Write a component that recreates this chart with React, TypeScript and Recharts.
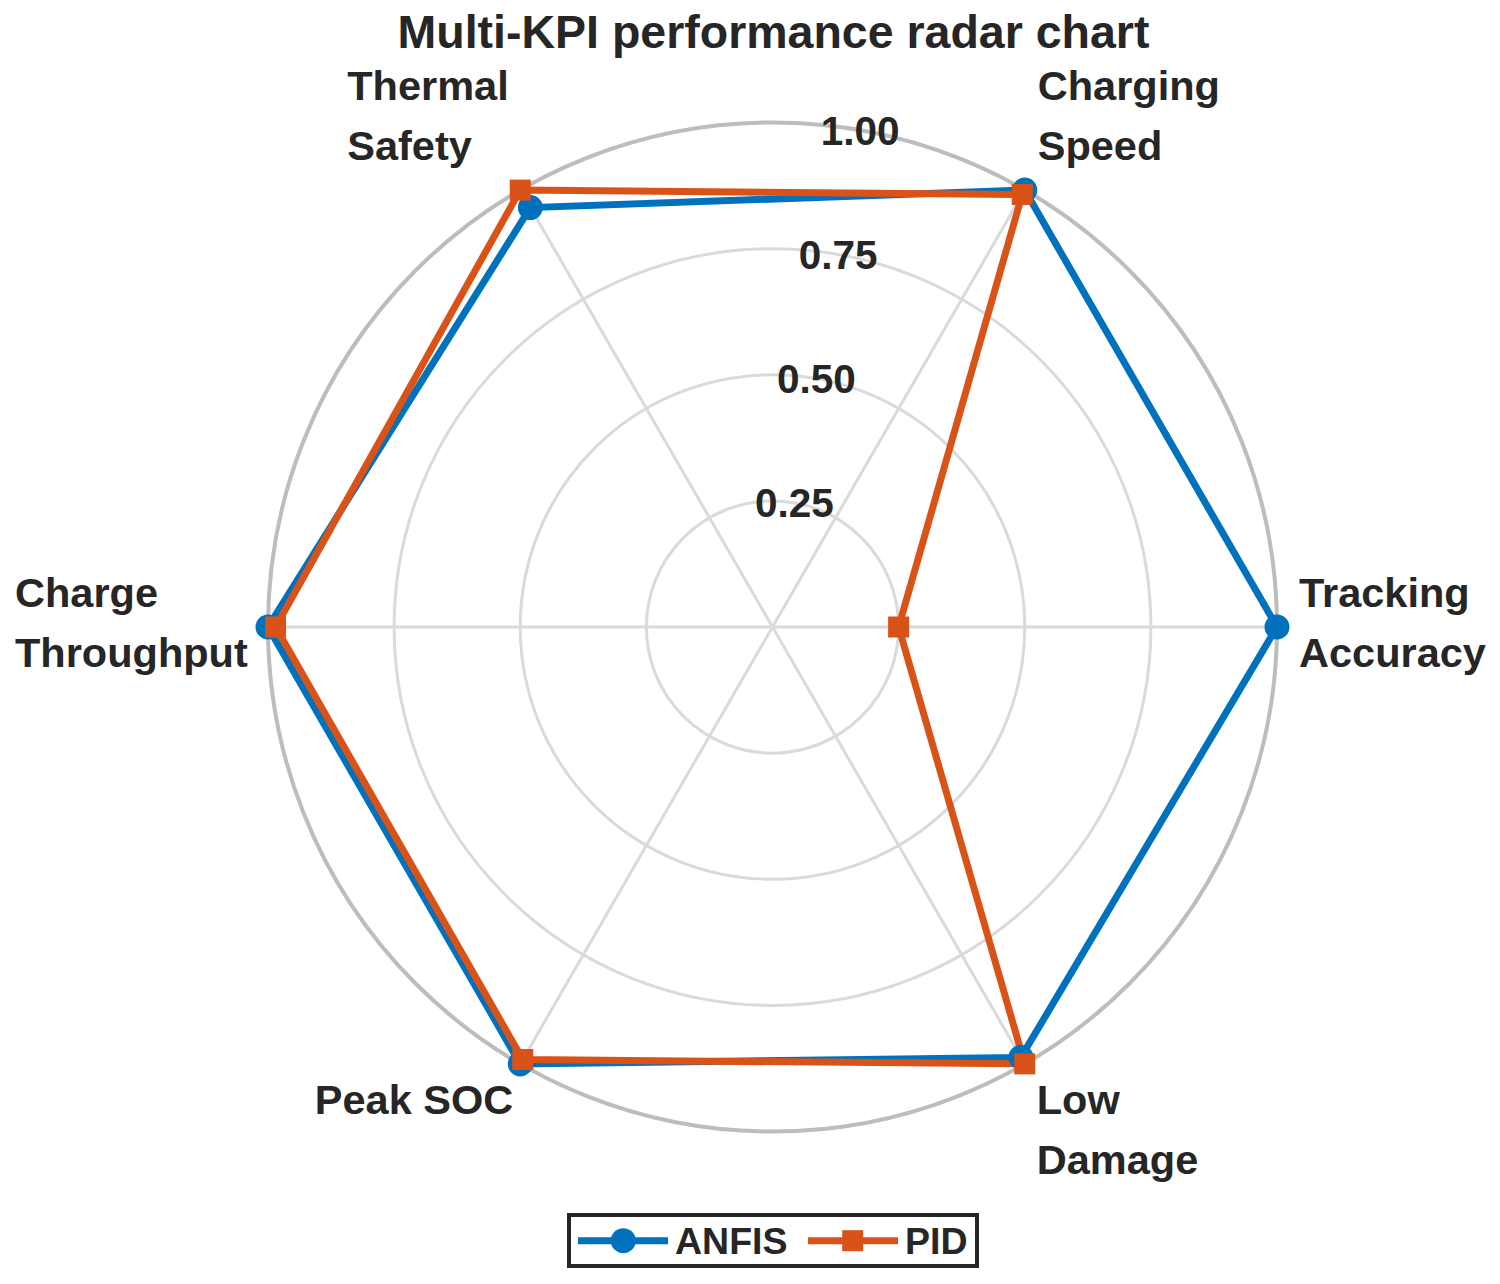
import React from 'react';
import { RadarChart, Radar, PolarGrid, PolarAngleAxis, PolarRadiusAxis, Legend } from 'recharts';

// ---------- data ----------
const categories = [
  'Tracking Accuracy',
  'Charging Speed',
  'Thermal Safety',
  'Charge Throughput',
  'Peak SOC',
  'Low Damage',
];
const categoryLabelLines = [
  ['Tracking', 'Accuracy'],
  ['Charging', 'Speed'],
  ['Thermal', 'Safety'],
  ['Charge', 'Throughput'],
  ['Peak SOC'],
  ['Low', 'Damage'],
];
const anfisValues = [1.0, 1.0, 0.96, 1.0, 1.0, 0.985];
const pidValues = [0.25, 0.99, 1.0, 0.985, 0.99, 1.0];
const radiusTicks = [0.25, 0.5, 0.75, 1.0];
const seriesNames = ['ANFIS', 'PID'];
const titleText = 'Multi-KPI performance radar chart';

const data = categories.map((c, i) => ({
  kpi: c,
  [seriesNames[0]]: anfisValues[i],
  [seriesNames[1]]: pidValues[i],
}));

// ---------- styles / layout ----------
const W = 1500;
const H = 1284;
const CX = 772.5;
const CY = 627;
const R = 504.5;
const FONT = '"Liberation Sans", Arial, Helvetica, sans-serif';
const TEXT = '#262626';
const BLUE = '#0072BD';
const ORANGE = '#D95319';
const LINE_W = 7;
const LINE_H = 60;

const labelLayout: Record<number, { anchor: 'start' | 'end' | 'middle'; dx: number; dy: number }> = {
  0: { anchor: 'start', dx: 22, dy: -20 },
  60: { anchor: 'start', dx: 13, dy: -90 },
  120: { anchor: 'start', dx: -173, dy: -90 },
  180: { anchor: 'start', dx: -253, dy: -20 },
  240: { anchor: 'end', dx: -7, dy: 50 },
  300: { anchor: 'start', dx: 12, dy: 50 },
};

function AngleTick(props: any) {
  const { payload } = props;
  const cx = typeof props.cx === 'number' ? props.cx : CX;
  const cy = typeof props.cy === 'number' ? props.cy : CY;
  const radius = typeof props.radius === 'number' ? props.radius : R;
  const idx = categories.indexOf(payload.value);
  const ang = Math.round(((idx * 360) / categories.length) % 360);
  const rad = (ang * Math.PI) / 180;
  const bx = cx + radius * Math.cos(rad);
  const by = cy - radius * Math.sin(rad);
  const lay = labelLayout[ang] || { anchor: 'middle', dx: 0, dy: 0 };
  const lines = idx >= 0 ? categoryLabelLines[idx] : [String(payload.value)];
  const x = bx + lay.dx;
  const y = by + lay.dy;
  return (
    <text
      x={x}
      y={y}
      textAnchor={lay.anchor}
      fontFamily={FONT}
      fontWeight="bold"
      fontSize={41.5}
      fill={TEXT}
    >
      {lines.map((l, i) => (
        <tspan key={i} x={x} y={y + i * LINE_H}>
          {l}
        </tspan>
      ))}
    </text>
  );
}

function RadiusTick(props: any) {
  const { x, y, payload } = props;
  return (
    <text
      x={x}
      y={y}
      dy="0.36em"
      textAnchor="middle"
      fontFamily={FONT}
      fontWeight="bold"
      fontSize={40.5}
      fill={TEXT}
    >
      {Number(payload.value).toFixed(2)}
    </text>
  );
}

function CircleDot(props: any) {
  const { cx, cy } = props;
  if (cx == null || cy == null) return <g />;
  return <circle cx={cx} cy={cy} r={12.5} fill={BLUE} stroke="none" />;
}

function SquareDot(props: any) {
  const { cx, cy } = props;
  if (cx == null || cy == null) return <g />;
  return <rect x={cx - 10.5} y={cy - 10.5} width={21} height={21} fill={ORANGE} stroke="none" />;
}

function LegendBox() {
  return (
    <svg width={412} height={55} style={{ display: 'block' }}>
      <rect x={2} y={2} width={408} height={51} fill="#fff" stroke={TEXT} strokeWidth={4} />
      <line x1={11} y1={27.7} x2={101} y2={27.7} stroke={BLUE} strokeWidth={LINE_W} />
      <circle cx={56.3} cy={27.7} r={12.5} fill={BLUE} />
      <text x={108} y={41} fontFamily={FONT} fontWeight="bold" fontSize={37.5} fill={TEXT}>
        {seriesNames[0]}
      </text>
      <line x1={241} y1={27.7} x2={331} y2={27.7} stroke={ORANGE} strokeWidth={LINE_W} />
      <rect x={275.2} y={17.2} width={21} height={21} fill={ORANGE} />
      <text x={338} y={41} fontFamily={FONT} fontWeight="bold" fontSize={37.5} fill={TEXT}>
        {seriesNames[1]}
      </text>
    </svg>
  );
}

export default function App() {
  return (
    <div style={{ position: 'absolute', left: 0, top: 0, width: W, height: H, background: '#fff' }}>
      <RadarChart
        width={W}
        height={H}
        data={data}
        cx={CX}
        cy={CY}
        outerRadius={R}
        startAngle={-60}
        endAngle={300}
        margin={{ top: 0, right: 0, bottom: 0, left: 0 }}
      >
        <PolarGrid gridType="circle" stroke="#dadada" strokeWidth={3} />
        <PolarGrid gridType="circle" polarRadius={[R]} radialLines={false} stroke="#bdbdbd" strokeWidth={4} />
        <PolarAngleAxis dataKey="kpi" tick={AngleTick} tickLine={false} axisLine={false} />
        <PolarRadiusAxis
          angle={80}
          domain={[0, 1]}
          ticks={radiusTicks}
          tick={RadiusTick}
          axisLine={false}
          tickLine={false}
          allowDataOverflow
        />
        <Radar
          name={seriesNames[0]}
          dataKey={seriesNames[0]}
          stroke={BLUE}
          strokeWidth={LINE_W}
          fill="none"
          fillOpacity={0}
          dot={CircleDot}
          isAnimationActive={false}
        />
        <Radar
          name={seriesNames[1]}
          dataKey={seriesNames[1]}
          stroke={ORANGE}
          strokeWidth={LINE_W}
          fill="none"
          fillOpacity={0}
          dot={SquareDot}
          isAnimationActive={false}
        />
        <Legend
          content={() => <LegendBox />}
          wrapperStyle={{ position: 'absolute', left: 567, top: 1213, width: 412, height: 55 }}
        />
      </RadarChart>
      <svg
        width={W}
        height={70}
        style={{ position: 'absolute', left: 0, top: 0, pointerEvents: 'none' }}
      >
        <text
          x={773.5}
          y={48}
          textAnchor="middle"
          fontFamily={FONT}
          fontWeight="bold"
          fontSize={46.5}
          fill={TEXT}
        >
          {titleText}
        </text>
      </svg>
    </div>
  );
}
